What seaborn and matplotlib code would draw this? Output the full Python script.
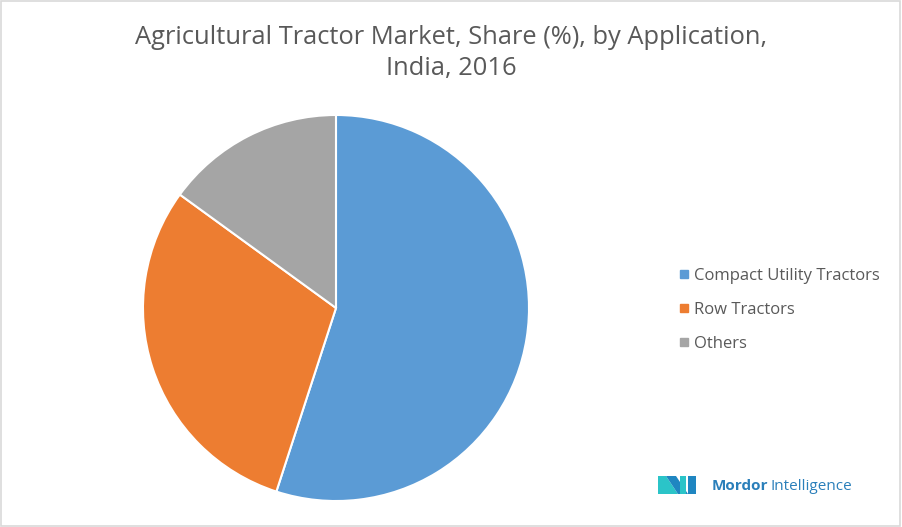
import matplotlib
matplotlib.use('Agg')
import matplotlib.pyplot as plt
import seaborn as sns
from matplotlib.patches import Polygon, Rectangle
from matplotlib.lines import Line2D

# chart data
categories = ['Compact Utility Tractors', 'Row Tractors', 'Others']
shares = [55, 30, 15]
colors = ['#5B9BD5', '#ED7D31', '#A5A5A5']

sns.set_style('white')
plt.rcParams['font.family'] = ['Open Sans', 'DejaVu Sans']

fig = plt.figure(figsize=(9.02, 5.27), dpi=100)
fig.patch.set_facecolor('white')

# pie area
ax = fig.add_axes([0.1585, 0.0493, 0.428, 0.7325])
ax.pie(shares, colors=colors, startangle=90, counterclock=False,
       wedgeprops=dict(edgecolor='white', linewidth=1.5))
ax.set_xlim(-1, 1)
ax.set_ylim(-1, 1)
ax.set_aspect('equal')
ax.axis('off')

fig.suptitle('Agricultural Tractor Market, Share (%), by Application,\nIndia, 2016',
             x=0.5, y=0.952, fontsize=18.4, color='#595959', linespacing=1.3)

handles = [Line2D([0], [0], marker='s', linestyle='', markersize=6,
                  markerfacecolor=c, markeredgecolor=c) for c in colors]
fig.legend(handles, categories, loc='center left', bbox_to_anchor=(0.733, 0.412),
           frameon=False, fontsize=12, labelcolor='#595959', handletextpad=0.1,
           labelspacing=1.1, handlelength=1.0)

# logo
W, H = 902, 527
def px(x, y):
    return (x / W, 1 - y / H)

logo = [
    [(658, 476), (666, 476), (678, 494), (658, 494)],
    [(666, 476), (676, 476), (688, 494), (678, 494)],
    [(680, 476), (686, 476), (686, 494), (680, 494)],
    [(688, 476), (696, 476), (696, 494), (688, 494)],
]
logo_cols = ['#2BC4C8', '#1F86C1', '#2BC4C8', '#1F86C1']
for pts, c in zip(logo, logo_cols):
    fig.add_artist(Polygon([px(*p) for p in pts], closed=True, facecolor=c,
                           edgecolor='none', transform=fig.transFigure))
fig.text(*px(712, 486), 'Mordor', fontsize=11, fontweight='bold',
         color='#2A7FBA', va='center', ha='left')
fig.text(*px(770, 486), 'Intelligence', fontsize=11, color='#2A7FBA',
         va='center', ha='left')

# border
fig.add_artist(Rectangle((0.001, 0.002), 0.997, 0.996, transform=fig.transFigure,
                         fill=False, edgecolor='#D9D9D9', linewidth=1.2))

fig.savefig('out.png', dpi=100, facecolor='white')
